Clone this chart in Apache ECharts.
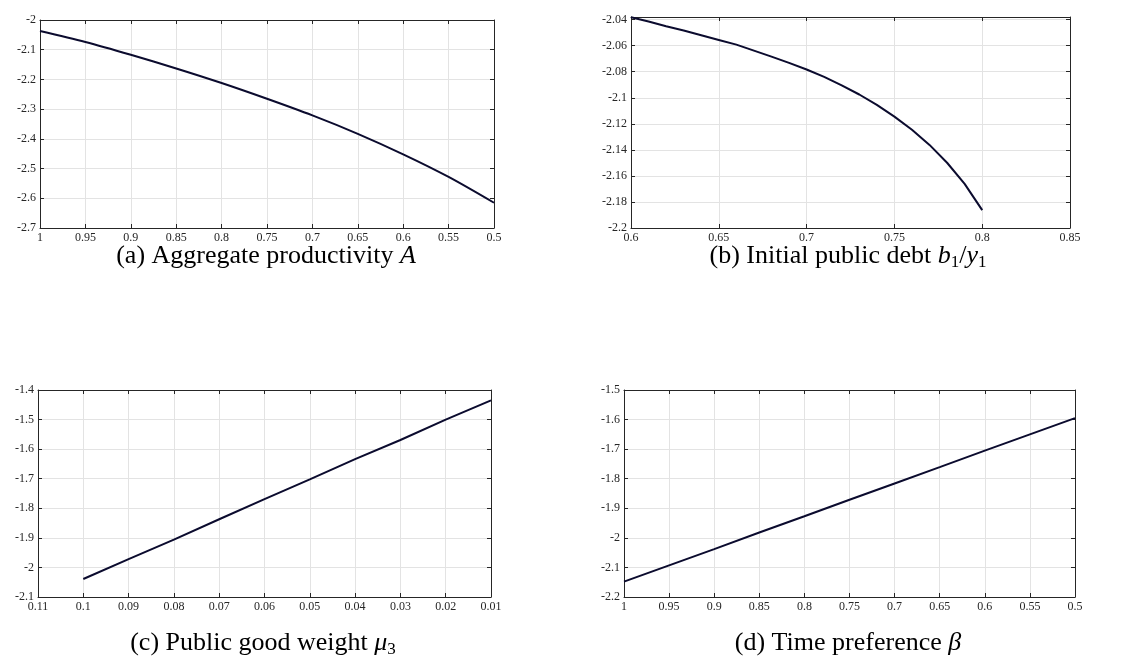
<!DOCTYPE html>
<html>
<head>
<meta charset="utf-8">
<style>
  html, body { margin: 0; padding: 0; background: #ffffff; }
  #chart { width: 1125px; height: 656px; }
</style>
<script src="https://cdn.jsdelivr.net/npm/echarts@6/dist/echarts.min.js"></script>
</head>
<body>
<div id="chart"></div>
<script>
// (a) aggregate productivity A
var aX = [1, 0.95, 0.9, 0.85, 0.8, 0.75, 0.7, 0.65, 0.6, 0.55, 0.5];
var aY = [-2.037, -2.074, -2.117, -2.163, -2.212, -2.265, -2.321, -2.383, -2.452, -2.528, -2.615];

// (b) initial public debt b1/y1
var bX = [0.6, 0.61, 0.62, 0.63, 0.64, 0.65, 0.66, 0.67, 0.68, 0.69, 0.7,
          0.71, 0.72, 0.73, 0.74, 0.75, 0.76, 0.77, 0.78, 0.79, 0.8];
var bY = [-2.0382, -2.0415, -2.0451, -2.0484, -2.052, -2.0556, -2.0592, -2.0638, -2.0684, -2.0732, -2.0783,
          -2.084, -2.0905, -2.0975, -2.1055, -2.1145, -2.1246, -2.1362, -2.1499, -2.1661, -2.1863];

// (c) public good weight mu3
var cX = [0.1, 0.09, 0.08, 0.07, 0.06, 0.05, 0.04, 0.03, 0.02, 0.01];
var cY = [-2.039, -1.972, -1.906, -1.837, -1.769, -1.702, -1.634, -1.569, -1.5, -1.435];

// (d) time preference beta
var dX = [1, 0.95, 0.9, 0.85, 0.8, 0.75, 0.7, 0.65, 0.6, 0.55, 0.5];
var dY = [-2.148, -2.093, -2.038, -1.982, -1.927, -1.871, -1.816, -1.761, -1.705, -1.65, -1.595];

var serif = '"Liberation Serif", "DejaVu Serif", serif';
var ink = "#262626", gridGray = "#e3e3e3", lineColor = "#0b0b2e";

var panels = [
  { x: aX, y: aY, grid: { left: 40, top: 20, width: 454, height: 208 },
    xr: [0.5, 1, 0.05, true], yr: [-2.7, -2, 0.1] },
  { x: bX, y: bY, grid: { left: 631, top: 17, width: 439, height: 211 },
    xr: [0.6, 0.85, 0.05, false], yr: [-2.2, -2.038, 0.02] },
  { x: cX, y: cY, grid: { left: 38, top: 390, width: 453, height: 207 },
    xr: [0.01, 0.11, 0.01, true], yr: [-2.1, -1.4, 0.1] },
  { x: dX, y: dY, grid: { left: 624, top: 390, width: 451, height: 207 },
    xr: [0.5, 1, 0.05, true], yr: [-2.2, -1.5, 0.1] }
];

function axisBase(r, inverse, mirror) {
  return {
    type: "value", min: r[0], max: r[1], interval: r[2], inverse: !!inverse,
    axisLine: { show: true, onZero: false, lineStyle: { color: ink, width: 1 } },
    axisTick: { show: true, inside: true, length: 4, lineStyle: { color: ink } },
    axisLabel: { show: !mirror, color: ink, fontFamily: serif, fontSize: 12, margin: 4, showMaxLabel: true },
    splitLine: { show: !mirror, lineStyle: { color: gridGray, width: 1 } }
  };
}

var grids = [], xAxes = [], yAxes = [], series = [];
panels.forEach(function (p, i) {
  grids.push(Object.assign({ containLabel: false }, p.grid));
  var xb = axisBase(p.xr, p.xr[3], false);
  xb.gridIndex = i; xb.position = "bottom";
  var xt = axisBase(p.xr, p.xr[3], true);
  xt.gridIndex = i; xt.position = "top";
  var yl = axisBase(p.yr, false, false);
  yl.gridIndex = i; yl.position = "left";
  if (i === 1) yl.axisLabel.showMaxLabel = false;
  var yr = axisBase(p.yr, false, true);
  yr.gridIndex = i; yr.position = "right";
  xAxes.push(xb, xt);
  yAxes.push(yl, yr);
  series.push({
    type: "line", xAxisIndex: 2 * i, yAxisIndex: 2 * i,
    data: p.x.map(function (v, k) { return [v, p.y[k]]; }),
    showSymbol: false, smooth: i === 0 ? 0.3 : false,
    lineStyle: { color: lineColor, width: 2 },
    silent: true, animation: false, z: 5
  });
});

var rich = {
  n: { fontFamily: serif, fontSize: 26, lineHeight: 30, color: "#000" },
  i: { fontFamily: serif, fontSize: 26, lineHeight: 30, fontStyle: "italic", color: "#000" },
  s: { fontFamily: serif, fontSize: 17, lineHeight: 14, verticalAlign: "bottom", color: "#000" }
};
function caption(cx, cy, txt) {
  return {
    type: "text", x: cx, y: cy, silent: true,
    style: { text: txt, align: "center", verticalAlign: "middle", rich: rich,
             fontFamily: serif, fontSize: 26, fill: "#000" }
  };
}

var chart = echarts.init(document.getElementById("chart"), null, { renderer: "canvas" });
chart.setOption({
  animation: false,
  backgroundColor: "#ffffff",
  grid: grids,
  xAxis: xAxes,
  yAxis: yAxes,
  series: series,
  graphic: [
    caption(266, 256, "{n|(a) Aggregate productivity }{i|A}"),
    caption(848, 256, "{n|(b) Initial public debt }{i|b}{s|1}{n|/}{i|y}{s|1}"),
    caption(263, 643, "{n|(c) Public good weight }{i|μ}{s|3}"),
    caption(848, 643, "{n|(d) Time preference }{i|β}")
  ]
});
</script>
</body>
</html>
